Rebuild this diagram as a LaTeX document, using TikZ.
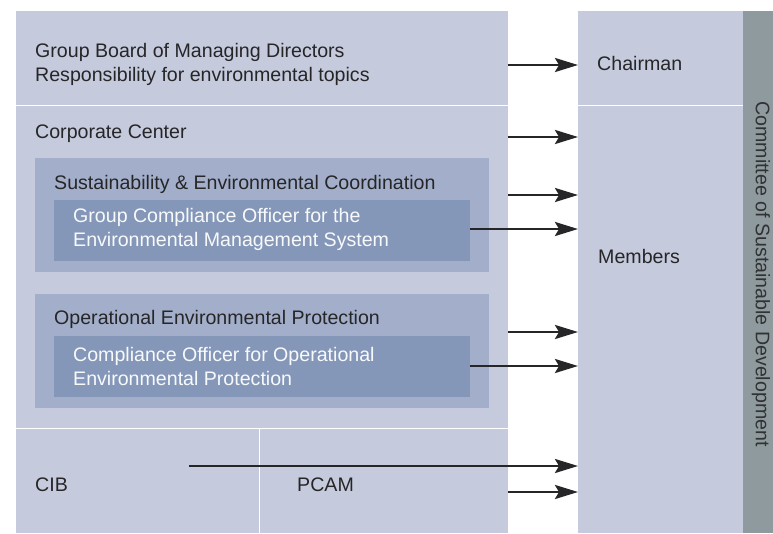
\documentclass[tikz,border=0pt]{standalone}
\usepackage{fontspec}
\setmainfont{Liberation Sans}
\usetikzlibrary{arrows.meta}
\definecolor{paleblue}{HTML}{C5CBDD}
\definecolor{midblue}{HTML}{A3AFCA}
\definecolor{deepblue}{HTML}{8597B8}
\definecolor{slate}{HTML}{8F9A9E}
\definecolor{ink}{HTML}{262628}
\tikzset{
  panel/.style 2 args={anchor=north west, inner sep=0pt, minimum width=#1, minimum height=#2},
  txt/.style={inner sep=0pt, text=ink, align=left},
  lighttxt/.style={txt, text=white!94!deepblue},
  link/.style={-{Stealth[length=23pt,width=14pt,inset=4pt]}, line width=2.6pt, draw=ink}
}
\begin{document}
\begin{tikzpicture}[x=1pt, y=-1pt, font=\fontsize{19.6}{24}\selectfont]
  \useasboundingbox (0,0) rectangle (773,533);
  \node[panel={492pt}{94pt}, fill=paleblue] (board) at (16,11) {};
  \node[panel={492pt}{322pt}, fill=paleblue] (corp) at (16,106) {};
  \node[panel={454pt}{114pt}, fill=midblue] (sust) at (35,158) {};
  \node[panel={416pt}{61pt}, fill=deepblue] (gco) at (54,200) {};
  \node[panel={454pt}{114pt}, fill=midblue] (oper) at (35,294) {};
  \node[panel={416pt}{61pt}, fill=deepblue] (cooep) at (54,336) {};
  \node[panel={243pt}{104pt}, fill=paleblue] (cib) at (16,429) {};
  \node[panel={248pt}{104pt}, fill=paleblue] (pcam) at (260,429) {};
  \node[panel={165pt}{94pt}, fill=paleblue] (chairman) at (578,11) {};
  \node[panel={165pt}{427pt}, fill=paleblue] (members) at (578,106) {};
  \node[panel={30pt}{522pt}, fill=slate] (committee) at (743,11) {};

  \node[txt, anchor=west] (board-label) at (35,64) {Group Board of Managing Directors\\Responsibility for environmental topics};
  \node[txt, anchor=base west] (corp-label) at (35,138) {Corporate Center};
  \node[txt, anchor=base west] (sust-label) at (54,189) {Sustainability \& Environmental Coordination};
  \node[lighttxt, anchor=west] (gco-label) at (73,229) {Group Compliance Officer for the\\Environmental Management System};
  \node[txt, anchor=base west] (oper-label) at (54,324) {Operational Environmental Protection};
  \node[lighttxt, anchor=west] (cooep-label) at (73,366) {Compliance Officer for Operational\\Environmental Protection};
  \node[txt, anchor=base west] (cib-label) at (35,491) {CIB};
  \node[txt, anchor=base west] (pcam-label) at (297,491) {PCAM};
  \node[txt, anchor=base west] (chairman-label) at (597,70) {Chairman};
  \node[txt, anchor=base west] (members-label) at (598,263) {Members};
  \node[txt, rotate=-90, text=ink!90!slate] (committee-label) at (761,274) {Committee of Sustainable Development};

  \foreach \n/\y in {1/65, 2/137, 3/195, 4/229, 5/332, 6/366, 7/466, 8/492}
    \coordinate (in\n) at (578,\y);
  \coordinate (cib-out) at (189,466);
  \draw[link] (board.east |- in1) -- (in1);
  \draw[link] (corp.east |- in2) -- (in2);
  \draw[link] (corp.east |- in3) -- (in3);
  \draw[link] (gco.east |- in4) -- (in4);
  \draw[link] (corp.east |- in5) -- (in5);
  \draw[link] (cooep.east |- in6) -- (in6);
  \draw[link] (cib-out) -- (in7);
  \draw[link] (pcam.east |- in8) -- (in8);
\end{tikzpicture}
\end{document}
